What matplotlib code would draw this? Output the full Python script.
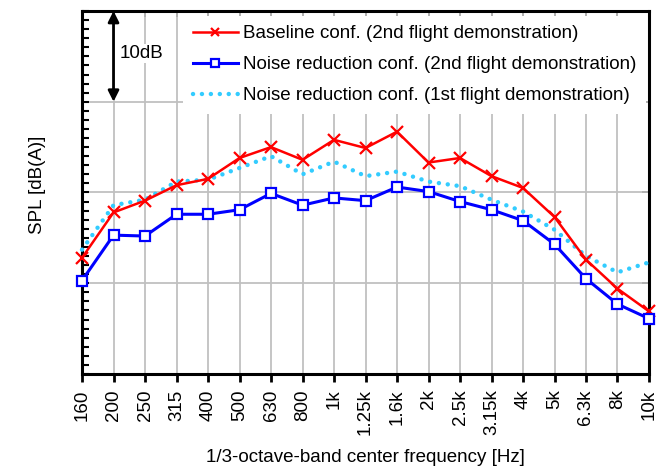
import numpy as np
import matplotlib
matplotlib.use('Agg')
import matplotlib.pyplot as plt
from matplotlib.ticker import MultipleLocator

plt.rcParams['font.family'] = ['Liberation Sans', 'DejaVu Sans']

# 1/3-octave band centre frequencies
bands = ['160', '200', '250', '315', '400', '500', '630', '800', '1k', '1.25k',
         '1.6k', '2k', '2.5k', '3.15k', '4k', '5k', '6.3k', '8k', '10k']

# relative SPL in dB(A), bottom of the axis = 0
baseline_2nd = [12.8, 17.8, 19.1, 20.8, 21.5, 23.8, 25.0, 23.6, 25.8, 24.9,
                26.7, 23.3, 23.8, 21.8, 20.5, 17.3, 12.6, 9.4, 6.9]
reduction_2nd = [10.3, 15.3, 15.2, 17.6, 17.6, 18.1, 19.9, 18.6, 19.4, 19.1,
                 20.6, 20.1, 19.0, 18.1, 16.9, 14.3, 10.5, 7.7, 6.1]
reduction_1st = [13.7, 18.6, 19.2, 21.2, 21.4, 22.7, 24.0, 22.0, 23.4, 21.8,
                 22.3, 21.2, 20.7, 19.2, 17.9, 15.9, 13.0, 11.2, 12.3]

x = np.arange(len(bands))
fs = 13.5

fig = plt.figure(figsize=(6.69, 4.69), dpi=100)
ax = fig.add_axes([0.1226, 0.2026, 0.8475, 0.774])

ax.plot(x, baseline_2nd, color='#ff0000', lw=1.8, marker='x', ms=8,
        mew=1.6, clip_on=False, zorder=4,
        label='Baseline conf. (2nd flight demonstration)')
ax.plot(x, reduction_2nd, color='#0000ff', lw=2.2, marker='s', ms=7.5,
        mew=1.6, mfc='white', clip_on=False, zorder=4,
        label='Noise reduction conf. (2nd flight demonstration)')
ax.plot(x, reduction_1st, color='#33ccff', lw=3.2, ls=(0, (0.01, 2.0)),
        dash_capstyle='round', clip_on=False, zorder=3,
        label='Noise reduction conf. (1st flight demonstration)')

ax.set_xlim(0, len(bands) - 1)
ax.set_ylim(0, 40)
ax.set_xticks(x)
ax.set_xticklabels(bands, rotation=90, fontsize=fs)
ax.yaxis.set_major_locator(MultipleLocator(10))
ax.yaxis.set_minor_locator(MultipleLocator(1))
ax.set_yticklabels([])
ax.grid(True, which='major', color='#c0c0c0', lw=1.3)
ax.set_axisbelow(True)

for s in ax.spines.values():
    s.set_linewidth(2.2)
ax.tick_params(axis='x', which='major', direction='out', length=6, width=2,
               pad=5)
ax.tick_params(axis='y', which='both', direction='in', length=5, width=1.5)

# inward ticks on the top and right frame
top = ax.secondary_xaxis('top')
top.set_xticks(x)
top.tick_params(direction='in', length=4, width=1.2, labeltop=False)
right = ax.secondary_yaxis('right')
right.set_yticks([0, 10, 20, 30, 40])
right.tick_params(direction='in', length=5, width=1.2, labelright=False)

ax.set_xlabel('1/3-octave-band center frequency [Hz]', fontsize=fs,
              labelpad=10)
ax.set_ylabel('SPL [dB(A)]', fontsize=fs)
ax.yaxis.set_label_coords(-0.064, 0.52)

# 10 dB scale bar
ax.annotate('', xy=(1, 30), xytext=(1, 40),
            arrowprops=dict(arrowstyle='<|-|>', color='black', lw=2,
                            mutation_scale=16, shrinkA=0, shrinkB=0),
            annotation_clip=False, zorder=5)
ax.text(1.2, 35.3, '10dB', fontsize=fs, ha='left', va='center',
        bbox=dict(facecolor='white', edgecolor='none', pad=1), zorder=5)

leg = ax.legend(loc='upper right', bbox_to_anchor=(1.0, 0.995), fontsize=fs,
                frameon=True, fancybox=False, framealpha=1,
                edgecolor='none', facecolor='white', handlelength=2.4,
                handletextpad=0.3, labelspacing=0.75, borderpad=0.5,
                markerscale=0.7, borderaxespad=0.15)
leg.set_zorder(6)

fig.savefig('out.png', dpi=100)
